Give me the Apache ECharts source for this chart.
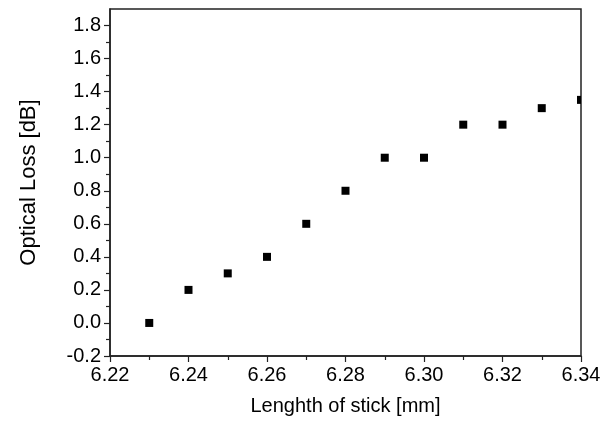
<!DOCTYPE html>
<html><head><meta charset="utf-8">
<script src="https://cdn.jsdelivr.net/npm/echarts@6/dist/echarts.min.js"></script>
<style>html,body{margin:0;padding:0;background:#fff}#c{width:614px;height:423px}</style>
</head><body><div id="c"></div>
<script>
var lengths = [6.23, 6.24, 6.25, 6.26, 6.27, 6.28, 6.29, 6.30, 6.31, 6.32, 6.33, 6.34];
var losses  = [0.0, 0.2, 0.3, 0.4, 0.6, 0.8, 1.0, 1.0, 1.2, 1.2, 1.3, 1.35];
var yTicks = [-0.2, 0.0, 0.2, 0.4, 0.6, 0.8, 1.0, 1.2, 1.4, 1.6, 1.8];
var xTicks = [6.22, 6.24, 6.26, 6.28, 6.30, 6.32, 6.34];
var yMinor = [-0.1, 0.1, 0.3, 0.5, 0.7, 0.9, 1.1, 1.3, 1.5, 1.7];
var xMinor = [6.23, 6.25, 6.27, 6.29, 6.31, 6.33];

var font = 'Liberation Sans, Arial, sans-serif';
var data = lengths.map(function(x, i){ return [x, losses[i]]; });
var chart = echarts.init(document.getElementById('c'), null, {renderer: 'canvas'});
var axisCol = '#222';
var MS = 8;
chart.setOption({
  animation: false,
  grid: {left: 110, top: 9, right: 33, bottom: 67, show: true, borderColor: axisCol, borderWidth: 1.5, backgroundColor: 'transparent'},
  xAxis: [{
    type: 'value', min: 6.22, max: 6.34, interval: 0.02,
    name: 'Lenghth of stick [mm]', nameLocation: 'middle', nameGap: 40,
    nameTextStyle: {fontFamily: font, fontSize: 20, color: '#000'},
    axisLine: {onZero: false, lineStyle: {color: axisCol, width: 1.5}},
    axisTick: {show: true, inside: false, length: 6, lineStyle: {color: axisCol, width: 1.2}, customValues: xTicks},
    axisLabel: {fontFamily: font, fontSize: 20, color: '#000', margin: 9, customValues: xTicks,
      formatter: function(v){ return v.toFixed(2); }},
    splitLine: {show: false}
  }, {
    type: 'value', min: 6.22, max: 6.34, position: 'bottom',
    axisLine: {show: false, onZero: false},
    axisTick: {show: true, length: 4, lineStyle: {color: axisCol, width: 1.2}, customValues: xMinor},
    axisLabel: {show: false}, splitLine: {show: false}
  }],
  yAxis: [{
    type: 'value', min: -0.2, max: 1.9,
    name: 'Optical Loss [dB]', nameLocation: 'middle', nameGap: 70,
    nameTextStyle: {fontFamily: font, fontSize: 22, color: '#000'},
    axisLine: {onZero: false, lineStyle: {color: axisCol, width: 1.5}},
    axisTick: {show: true, length: 6, lineStyle: {color: axisCol, width: 1.2}, customValues: yTicks},
    axisLabel: {fontFamily: font, fontSize: 20, color: '#000', margin: 9, customValues: yTicks,
      formatter: function(v){ return v.toFixed(1); }},
    splitLine: {show: false}
  }, {
    type: 'value', min: -0.2, max: 1.9, position: 'left',
    axisLine: {show: false, onZero: false},
    axisTick: {show: true, length: 4, lineStyle: {color: axisCol, width: 1.2}, customValues: yMinor},
    axisLabel: {show: false}, splitLine: {show: false}
  }],
  series: [{
    type: 'custom', data: data, clip: true, xAxisIndex: 0, yAxisIndex: 0,
    renderItem: function(params, api){
      var p = api.coord([api.value(0), api.value(1)]);
      return {type: 'rect', shape: {x: p[0] - MS/2, y: p[1] - MS/2, width: MS, height: MS},
        style: {fill: '#000'}};
    }
  }]
});
</script></body></html>
